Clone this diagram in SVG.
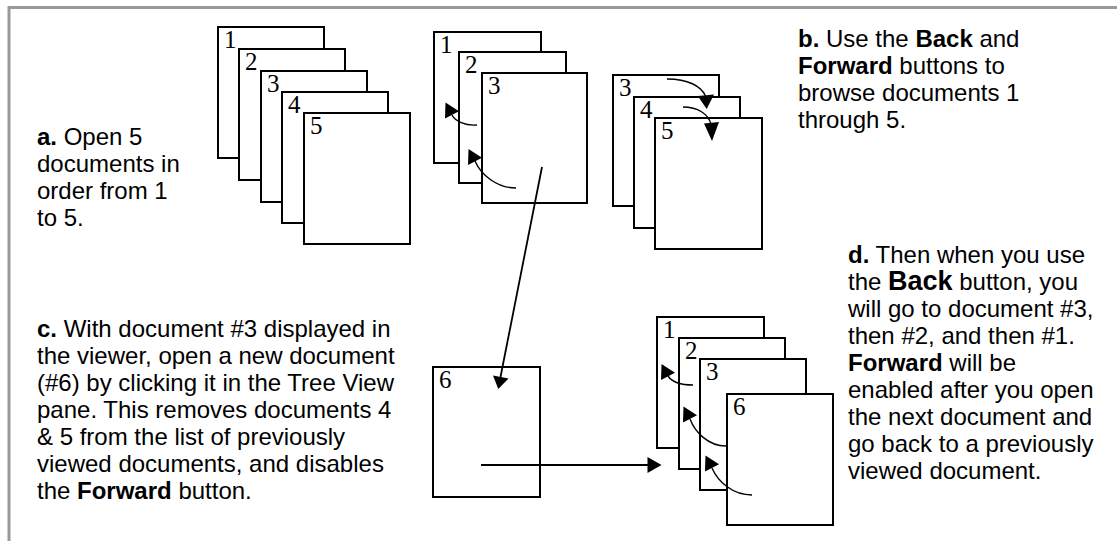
<svg xmlns="http://www.w3.org/2000/svg" width="1117" height="541" viewBox="0 0 1117 541">
<style>
.pg{fill:#fff;stroke:#000;stroke-width:2}
.num{font-family:"Liberation Serif","Times New Roman",serif;font-size:25px;fill:#000}
.tx{font-family:"Liberation Sans",Arial,sans-serif;font-size:24px;fill:#000}
.b{font-weight:bold}
.cv{fill:none;stroke:#000;stroke-width:1.4}
.ln{fill:none;stroke:#000;stroke-width:1.8}
.hd{fill:#000;stroke:none}
.frame{fill:none;stroke:#999;stroke-width:3}
</style>
<rect width="1117" height="541" fill="#fff"/>
<path class="frame" d="M9,541 V7.5 H1117"/>

<g id="stack-a">
<rect class="pg" x="218" y="27" width="106" height="131"/><text class="num" x="224" y="47.5">1</text>
<rect class="pg" x="239" y="49" width="106" height="131"/><text class="num" x="245" y="69.5">2</text>
<rect class="pg" x="261" y="71" width="106" height="131"/><text class="num" x="267" y="91.5">3</text>
<rect class="pg" x="282" y="92" width="106" height="131"/><text class="num" x="288" y="112.5">4</text>
<rect class="pg" x="304" y="113" width="106" height="131"/><text class="num" x="310" y="133.5">5</text>
</g>

<g id="stack-b-back">
<rect class="pg" x="434" y="32" width="107" height="131"/><text class="num" x="440" y="52.5">1</text>
<rect class="pg" x="459" y="52" width="107" height="131"/><text class="num" x="465" y="72.5">2</text>
<rect class="pg" x="482" y="73" width="105" height="130"/><text class="num" x="488" y="93.5">3</text>
</g>

<g id="stack-b-forward">
<rect class="pg" x="613" y="75" width="106" height="131"/><text class="num" x="619" y="95.5">3</text>
<rect class="pg" x="634" y="97" width="106" height="131"/><text class="num" x="640" y="117.5">4</text>
<rect class="pg" x="655" y="118" width="107" height="131"/><text class="num" x="661" y="138.5">5</text>
</g>

<g id="doc-6">
<rect class="pg" x="433" y="367" width="107" height="130"/><text class="num" x="439" y="387.5">6</text>
</g>

<g id="stack-d">
<rect class="pg" x="657" y="317" width="107" height="131"/><text class="num" x="663" y="337.5">1</text>
<rect class="pg" x="679" y="338" width="106" height="131"/><text class="num" x="685" y="358.5">2</text>
<rect class="pg" x="700" y="359" width="106" height="131"/><text class="num" x="706" y="379.5">3</text>
<rect class="pg" x="727" y="394" width="106" height="131"/><text class="num" x="733" y="414.5">6</text>
</g>

<g id="connectors">
<path class="cv" d="M477,125 C465,126 455,121 452,115"/>
<polygon class="hd" points="445.5,102.5 459,111.2 445,118.5"/>
<path class="cv" d="M516,188 C497,188 481,175 475,161"/>
<polygon class="hd" points="468.5,149 482,157.7 468,165"/>

<path class="cv" d="M667,79 C688,79 701,86 705.5,96"/>
<polygon class="hd" points="706.7,109 697.8,96 714,94.5"/>
<path class="cv" d="M683,107 C698,107 708,114 711,124"/>
<polygon class="hd" points="712,141 704,123.5 719,122"/>

<path class="ln" d="M542,167 L500.5,377"/>
<polygon class="hd" points="498.3,389 493,375.5 508.5,378.5"/>
<path class="ln" d="M481,465 H648"/>
<polygon class="hd" points="661.5,465 647.5,457 647.5,473"/>

<path class="cv" d="M693,385 C680,385 672,382 668,376"/>
<polygon class="hd" points="661.5,364 675,372.7 661,380"/>
<path class="cv" d="M726,446 C708,446 695,432 690,419"/>
<polygon class="hd" points="683.5,406.5 697,415.2 683,422.5"/>
<path class="cv" d="M752,495 C733,495 718,482 712,468"/>
<polygon class="hd" points="705.5,455.5 719,464.2 705,471.5"/>
</g>

<g id="text-a" class="tx">
<text x="37" y="145"><tspan class="b">a.</tspan> Open 5</text>
<text x="37" y="172">documents in</text>
<text x="37" y="199">order from 1</text>
<text x="37" y="226">to 5.</text>
</g>

<g id="text-b" class="tx">
<text x="798" y="47"><tspan class="b">b.</tspan> Use the <tspan class="b">Back</tspan> and</text>
<text x="798" y="74"><tspan class="b">Forward</tspan> buttons to</text>
<text x="798" y="101">browse documents 1</text>
<text x="798" y="128">through 5.</text>
</g>

<g id="text-c" class="tx">
<text x="37" y="337"><tspan class="b">c.</tspan> With document #3 displayed in</text>
<text x="37" y="364">the viewer, open a new document</text>
<text x="37" y="391">(#6) by clicking it in the Tree View</text>
<text x="37" y="418">pane. This removes documents 4</text>
<text x="37" y="445">&amp; 5 from the list of previously</text>
<text x="37" y="472">viewed documents, and disables</text>
<text x="37" y="499">the <tspan class="b">Forward</tspan> button.</text>
</g>

<g id="text-d" class="tx">
<text x="848" y="262.5"><tspan class="b">d.</tspan> Then when you use</text>
<text x="848" y="289.5">the <tspan class="b" font-size="27">Back</tspan> button, you</text>
<text x="848" y="316.5">will go to document #3,</text>
<text x="848" y="343.5">then #2, and then #1.</text>
<text x="848" y="370.5"><tspan class="b">Forward</tspan> will be</text>
<text x="848" y="397.5">enabled after you open</text>
<text x="848" y="424.5">the next document and</text>
<text x="848" y="451.5">go back to a previously</text>
<text x="848" y="478.5">viewed document.</text>
</g>
</svg>
